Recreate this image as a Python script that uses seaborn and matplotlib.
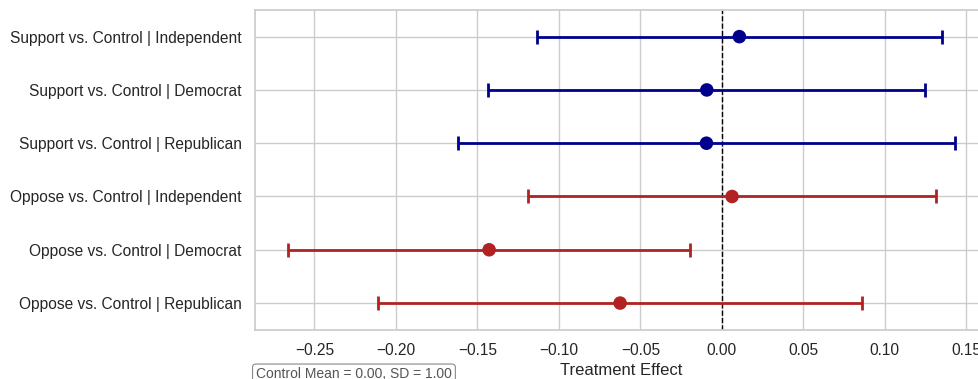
import numpy as np
import pandas as pd
import matplotlib
matplotlib.use("Agg")
import matplotlib.pyplot as plt
import seaborn as sns

labels = [
    "Support vs. Control | Independent",
    "Support vs. Control | Democrat",
    "Support vs. Control | Republican",
    "Oppose vs. Control | Independent",
    "Oppose vs. Control | Democrat",
    "Oppose vs. Control | Republican",
]
estimates = [0.0108, -0.0092, -0.0094, 0.0063, -0.1428, -0.0624]
lower = [-0.1136, -0.1432, -0.1618, -0.1189, -0.2660, -0.2108]
upper = [0.1353, 0.1246, 0.1430, 0.1315, -0.0195, 0.0863]
groups = ["Support", "Support", "Support", "Oppose", "Oppose", "Oppose"]
palette = {"Support": "#00008B", "Oppose": "#B22222"}
xticks = [-0.25, -0.20, -0.15, -0.10, -0.05, 0.00, 0.05, 0.10, 0.15]

sns.set_theme(style="whitegrid")
plt.rcParams["font.family"] = ["Liberation Sans", "DejaVu Sans"]

df = pd.DataFrame({"label": labels, "est": estimates, "lo": lower, "hi": upper, "group": groups})
df["pos"] = np.arange(len(df))

W, H = 979, 379
fig = plt.figure(figsize=(W / 100, H / 100), dpi=100)
ax = fig.add_axes([255 / W, 1 - 329.7 / H, (988 - 255) / W, (329.7 - 10) / H])

for g, sub in df.groupby("group"):
    ax.errorbar(sub["est"], sub["pos"],
                xerr=[sub["est"] - sub["lo"], sub["hi"] - sub["est"]],
                fmt="none", ecolor=palette[g], elinewidth=2, capsize=5, capthick=2, zorder=3)
sns.scatterplot(data=df, x="est", y="pos", hue="group", palette=palette, s=95,
                edgecolor="none", legend=False, ax=ax, zorder=4)

ax.axvline(0, color="black", linestyle="--", linewidth=1, zorder=2)
ax.set_yticks(df["pos"])
ax.set_yticklabels(df["label"], fontsize=11.2)
ax.set_ylim(len(df) - 0.5, -0.5)
ax.set_xlim(-0.2865, 0.1634)
ax.set_xticks(xticks)
ax.set_xticklabels([f"{t:.2f}".replace("-", "\u2212") for t in xticks], fontsize=11.2)
ax.set_xlabel("Treatment Effect", fontsize=12)
ax.set_ylabel("")

fig.text(256 / W, 1 - 374.5 / H, "Control Mean = 0.00, SD = 1.00", fontsize=10, color="#555555",
         ha="left", va="center",
         bbox=dict(boxstyle="round,pad=0.25", facecolor="white", edgecolor="#888888", linewidth=0.8))

fig.savefig("out.png", dpi=100)
